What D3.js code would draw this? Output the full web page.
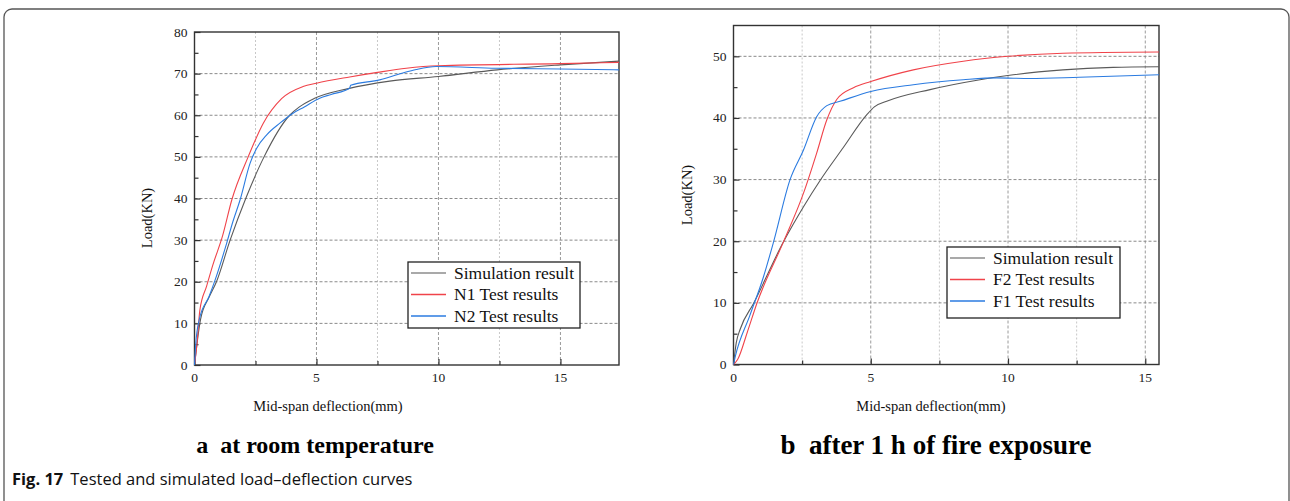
<!DOCTYPE html>
<html>
<head>
<meta charset="utf-8">
<script src="https://cdn.jsdelivr.net/npm/d3@7"></script>
<style>
  body { margin: 0; background: #fff; }
  svg { display: block; }
</style>
</head>
<body>
<svg id="fig" width="1290" height="501"></svg>
<script>
// ---- data: panel a (room temperature) ----
const simA = [[0,0],[0.1,5],[0.25,11],[0.6,16.3],[0.9,20],[1.46,30],[2.1,40],[2.85,50],[3.9,60],[4.3,62],[4.9,64],[6.3,66.4],[8,68.2],[10,69.3],[12.4,70.9],[15,72.1],[17.4,73]];
const n1A  = [[0,0],[0.1,5],[0.22,13.2],[0.5,19],[0.75,24],[1.15,31],[1.53,39.7],[2.2,50],[2.82,58.1],[3.57,64],[4.45,66.9],[5,67.7],[6.36,69.2],[7.5,70.3],[8.68,71.3],[10,71.9],[15,72.4],[17.4,72.7]];
const n2A  = [[0,0],[0.05,5],[0.2,11],[0.6,16.5],[0.85,20.5],[1.32,29.3],[1.55,34],[1.87,39.7],[2.28,48.5],[2.55,52.1],[2.96,55.3],[3.5,58.1],[4.04,60.5],[4.5,62],[5.13,64.1],[5.6,65],[6.36,66.5],[6.4,67.2],[7.59,68.5],[8.5,70.1],[9.09,71],[9.9,71.7],[12.36,71.3],[15,71.1],[17.4,70.9]];
// ---- data: panel b (after 1 h of fire) ----
const simB = [[0,0],[0.1,3.5],[0.25,5.8],[0.73,9.9],[1.82,19.9],[2.55,25.6],[3.16,29.9],[4,35.2],[4.85,40.5],[5.13,41.8],[5.58,42.7],[7.16,44.6],[8.98,46.2],[10.19,47],[12,47.8],[13.83,48.2],[15.5,48.3]];
const f2B  = [[0,0],[0.15,0.8],[0.5,5.2],[0.85,9.9],[1.82,19.9],[2.55,27.8],[3.03,34.3],[3.4,39.7],[3.76,43],[4.37,44.9],[5,45.9],[6.55,47.8],[8.37,49.2],[10,50],[12,50.5],[15.5,50.7]];
const f1B  = [[0,0],[0.06,1.2],[0.6,8],[1.09,14.2],[1.46,19.9],[2.06,30],[2.55,34.8],[3.03,40.2],[3.4,42],[3.88,42.7],[5,44.3],[6.55,45.4],[8.37,46.2],[9.59,46.5],[10.8,46.4],[12.6,46.6],[15.5,47]];

const legendA = ["Simulation result", "N1 Test results", "N2 Test results"];
const legendB = ["Simulation result", "F2 Test results", "F1 Test results"];
const colors  = ["#5a5a5a", "#f0434a", "#2b7be0"];
const swatch  = ["#8c8c8c", "#f0434a", "#2b7be0"];
const xTicksA = [0, 5, 10, 15];
const yTicksA = [0, 10, 20, 30, 40, 50, 60, 70, 80];
const xTicksB = [0, 5, 10, 15];
const yTicksB = [0, 10, 20, 30, 40, 50];

const svg = d3.select("#fig");

// outer frame of the figure
svg.append("rect")
  .attr("x", 4).attr("y", 9).attr("width", 1285).attr("height", 600)
  .attr("rx", 8).attr("fill", "none").attr("stroke", "#555").attr("stroke-width", 1.3);

function drawPanel(p) {
  const x = d3.scaleLinear().domain(p.xDomain).range([p.left, p.right]);
  const y = d3.scaleLinear().domain(p.yDomain).range([p.bottom, p.top]);
  const g = svg.append("g");

  // minor vertical grid (dotted, light)
  g.selectAll(".minorx").data(p.xMinor).join("line")
    .attr("x1", d => x(d)).attr("x2", d => x(d))
    .attr("y1", p.top).attr("y2", p.bottom)
    .attr("stroke", "#c8c8c8").attr("stroke-width", 1).attr("stroke-dasharray", "2,2");
  // major vertical grid
  g.selectAll(".majorx").data(p.xTicks.filter(d => d > p.xDomain[0])).join("line")
    .attr("x1", d => x(d)).attr("x2", d => x(d))
    .attr("y1", p.top).attr("y2", p.bottom)
    .attr("stroke", "#9a9a9a").attr("stroke-width", 1).attr("stroke-dasharray", "3,2");
  // horizontal grid
  g.selectAll(".majory").data(p.yTicks.filter(d => d > p.yDomain[0] && d < p.yDomain[1])).join("line")
    .attr("x1", p.left).attr("x2", p.right)
    .attr("y1", d => y(d)).attr("y2", d => y(d))
    .attr("stroke", "#8a8a8a").attr("stroke-width", 1).attr("stroke-dasharray", "3,2");

  // axes with inward ticks
  const yAxis = d3.axisRight(y).tickValues(p.yTicks).tickSize(6).tickFormat("");
  const yMinor = d3.axisRight(y).tickValues(p.yMinor).tickSize(4).tickFormat("");
  const xAxis = d3.axisTop(x).tickValues(p.xTicks).tickSize(6).tickFormat("");
  const xMinor = d3.axisTop(x).tickValues(p.xMinor).tickSize(4).tickFormat("");
  [g.append("g").attr("transform", `translate(${p.left},0)`).call(yAxis),
   g.append("g").attr("transform", `translate(${p.left},0)`).call(yMinor),
   g.append("g").attr("transform", `translate(0,${p.bottom})`).call(xAxis),
   g.append("g").attr("transform", `translate(0,${p.bottom})`).call(xMinor)]
    .forEach(a => {
      a.select(".domain").remove();
      a.selectAll("line").attr("stroke", "#333").attr("stroke-width", 1.2);
    });

  // frame
  g.append("rect")
    .attr("x", p.left).attr("y", p.top)
    .attr("width", p.right - p.left).attr("height", p.bottom - p.top)
    .attr("fill", "none").attr("stroke", "#333").attr("stroke-width", 1.4);

  // tick labels
  g.selectAll(".ylab").data(p.yTicks).join("text")
    .attr("x", p.left - 7).attr("y", d => y(d) + 4.5)
    .attr("text-anchor", "end")
    .attr("font-family", "Liberation Serif").attr("font-size", 13.5).attr("fill", "#222")
    .text(d => d);
  g.selectAll(".xlab").data(p.xTicks).join("text")
    .attr("x", d => x(d)).attr("y", p.bottom + 17)
    .attr("text-anchor", "middle")
    .attr("font-family", "Liberation Serif").attr("font-size", 13.5).attr("fill", "#222")
    .text(d => d);

  // axis titles
  g.append("text")
    .attr("x", p.xTitle[0]).attr("y", p.xTitle[1])
    .attr("text-anchor", "middle")
    .attr("font-family", "Liberation Serif").attr("font-size", 14.5).attr("fill", "#111")
    .text("Mid-span deflection(mm)");
  g.append("text")
    .attr("transform", `translate(${p.yTitle[0]},${p.yTitle[1]}) rotate(-90)`)
    .attr("text-anchor", "middle")
    .attr("font-family", "Liberation Serif").attr("font-size", 14.5).attr("fill", "#111")
    .text("Load(KN)");

  // curves
  const line = d3.line().x(d => x(d[0])).y(d => y(d[1])).curve(d3.curveMonotoneX);
  p.series.forEach((s, i) => {
    g.append("path").datum(s)
      .attr("d", line)
      .attr("fill", "none").attr("stroke", colors[i]).attr("stroke-width", 1.1);
  });

  // legend
  const lg = g.append("g").attr("transform", `translate(${p.legend[0]},${p.legend[1]})`);
  lg.append("rect").attr("width", p.legend[2]).attr("height", p.legend[3])
    .attr("fill", "#fff").attr("stroke", "#222").attr("stroke-width", 1.3);
  p.names.forEach((n, i) => {
    const yy = 11 + i * 21.5;
    lg.append("line").attr("x1", 3).attr("x2", 38).attr("y1", yy).attr("y2", yy)
      .attr("stroke", swatch[i]).attr("stroke-width", 1.3);
    lg.append("text").attr("x", 46).attr("y", yy + 5.5)
      .attr("font-family", "Liberation Serif").attr("font-size", 17.5).attr("fill", "#111")
      .text(n);
  });

  // panel subtitle
  g.append("text")
    .attr("x", p.sub[0]).attr("y", p.sub[1])
    .attr("text-anchor", "middle")
    .attr("font-family", "Liberation Serif").attr("font-weight", "bold")
    .attr("font-size", p.sub[2]).attr("fill", "#000")
    .attr("xml:space", "preserve")
    .text(p.subText);
}

drawPanel({
  xDomain: [0, 17.4], yDomain: [0, 80],
  left: 194.5, right: 619, top: 32, bottom: 365,
  xTicks: xTicksA, yTicks: yTicksA,
  xMinor: [2.5, 7.5, 12.5], yMinor: [5, 15, 25, 35, 45, 55, 65, 75],
  series: [simA, n1A, n2A], names: legendA,
  legend: [408, 262, 172, 66],
  xTitle: [328, 411], yTitle: [152, 218],
  sub: [315, 453, 24], subText: "a  at room temperature"
});

drawPanel({
  xDomain: [0, 15.5], yDomain: [0, 55],
  left: 733.5, right: 1159, top: 25.5, bottom: 364.5,
  xTicks: xTicksB, yTicks: yTicksB,
  xMinor: [2.5, 7.5, 12.5], yMinor: [5, 15, 25, 35, 45],
  series: [simB, f2B, f1B], names: legendB,
  legend: [947, 247, 173, 71],
  xTitle: [931, 411], yTitle: [692, 195],
  sub: [936, 454, 27], subText: "b  after 1 h of fire exposure"
});

// caption
const cap = svg.append("text")
  .attr("x", 12).attr("y", 485)
  .attr("font-family", "Open Sans").attr("font-size", 16.5).attr("fill", "#111");
cap.append("tspan").attr("font-weight", "bold").text("Fig. 17");
cap.append("tspan").attr("dx", 7).text("Tested and simulated load–deflection curves");
</script>
</body>
</html>
